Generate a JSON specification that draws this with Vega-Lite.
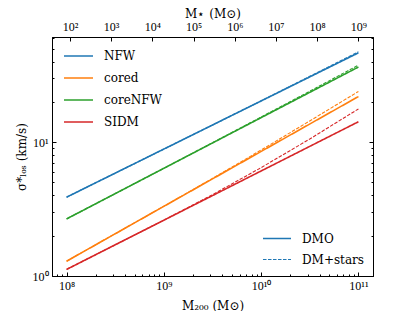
{
  "$schema": "https://vega.github.io/schema/vega-lite/v6.json",
  "width": 321,
  "height": 239,
  "autosize": {"type": "none"},
  "padding": {"left": 52, "top": 37, "right": 42, "bottom": 35},
  "background": "white",
  "config": {
    "view": {"stroke": "black", "strokeWidth": 1},
    "font": "DejaVu Serif",
    "axis": {
      "grid": false,
      "domainColor": "black",
      "tickColor": "black",
      "labelColor": "black",
      "titleColor": "black",
      "labelFont": "Liberation Serif",
      "labelFontSize": 12,
      "titleFont": "DejaVu Serif",
      "titleFontSize": 12,
      "titleFontWeight": "normal"
    },
    "legend": {
      "labelFont": "DejaVu Serif",
      "labelFontSize": 12,
      "labelColor": "black",
      "padding": 0
    }
  },
  "datasets": {
    "lines": [
      {"m200": 100000000, "sigma": 3.88, "model": "NFW", "kind": "DMO"},
      {"m200": 100000000000, "sigma": 46.45, "model": "NFW", "kind": "DMO"},
      {"m200": 100000000, "sigma": 1.29, "model": "cored", "kind": "DMO"},
      {"m200": 100000000000, "sigma": 21.9, "model": "cored", "kind": "DMO"},
      {"m200": 100000000, "sigma": 2.67, "model": "coreNFW", "kind": "DMO"},
      {"m200": 100000000000, "sigma": 36.4, "model": "coreNFW", "kind": "DMO"},
      {"m200": 100000000, "sigma": 1.12, "model": "SIDM", "kind": "DMO"},
      {"m200": 100000000000, "sigma": 14.2, "model": "SIDM", "kind": "DMO"},
      {"m200": 100000000, "sigma": 3.88, "model": "NFW", "kind": "DM+stars"},
      {"m200": 316227766, "sigma": 5.87, "model": "NFW", "kind": "DM+stars"},
      {"m200": 1000000000, "sigma": 8.87, "model": "NFW", "kind": "DM+stars"},
      {"m200": 3162277660, "sigma": 13.43, "model": "NFW", "kind": "DM+stars"},
      {"m200": 10000000000, "sigma": 20.35, "model": "NFW", "kind": "DM+stars"},
      {"m200": 31622776602, "sigma": 31.0, "model": "NFW", "kind": "DM+stars"},
      {"m200": 100000000000, "sigma": 47.3, "model": "NFW", "kind": "DM+stars"},
      {"m200": 100000000, "sigma": 1.29, "model": "cored", "kind": "DM+stars"},
      {"m200": 316227766, "sigma": 2.07, "model": "cored", "kind": "DM+stars"},
      {"m200": 1000000000, "sigma": 3.32, "model": "cored", "kind": "DM+stars"},
      {"m200": 3162277660, "sigma": 5.36, "model": "cored", "kind": "DM+stars"},
      {"m200": 10000000000, "sigma": 8.73, "model": "cored", "kind": "DM+stars"},
      {"m200": 31622776602, "sigma": 14.4, "model": "cored", "kind": "DM+stars"},
      {"m200": 100000000000, "sigma": 23.9, "model": "cored", "kind": "DM+stars"},
      {"m200": 100000000, "sigma": 2.67, "model": "coreNFW", "kind": "DM+stars"},
      {"m200": 316227766, "sigma": 4.12, "model": "coreNFW", "kind": "DM+stars"},
      {"m200": 1000000000, "sigma": 6.37, "model": "coreNFW", "kind": "DM+stars"},
      {"m200": 3162277660, "sigma": 9.9, "model": "coreNFW", "kind": "DM+stars"},
      {"m200": 10000000000, "sigma": 15.4, "model": "coreNFW", "kind": "DM+stars"},
      {"m200": 31622776602, "sigma": 24.0, "model": "coreNFW", "kind": "DM+stars"},
      {"m200": 100000000000, "sigma": 37.6, "model": "coreNFW", "kind": "DM+stars"},
      {"m200": 100000000, "sigma": 1.12, "model": "SIDM", "kind": "DM+stars"},
      {"m200": 316227766, "sigma": 1.71, "model": "SIDM", "kind": "DM+stars"},
      {"m200": 1000000000, "sigma": 2.61, "model": "SIDM", "kind": "DM+stars"},
      {"m200": 3162277660, "sigma": 4.05, "model": "SIDM", "kind": "DM+stars"},
      {"m200": 10000000000, "sigma": 6.45, "model": "SIDM", "kind": "DM+stars"},
      {"m200": 31622776602, "sigma": 10.55, "model": "SIDM", "kind": "DM+stars"},
      {"m200": 100000000000, "sigma": 17.7, "model": "SIDM", "kind": "DM+stars"}
    ],
    "top": [
      {"mstar": 36.6},
      {"mstar": 2275000000}
    ]
  },
  "layer": [
    {
      "data": {"name": "lines"},
      "mark": {"type": "line", "clip": true},
      "encoding": {
        "x": {
          "field": "m200",
          "type": "quantitative",
          "scale": {"type": "log", "domain": [70794578, 141253754462], "nice": false},
          "axis": {
            "orient": "bottom",
            "title": "M₂₀₀ (M⊙)",
            "values": [80000000, 90000000, 100000000, 200000000, 300000000, 400000000, 500000000, 600000000, 700000000, 800000000, 900000000, 1000000000, 2000000000, 3000000000, 4000000000, 5000000000, 6000000000, 7000000000, 8000000000, 9000000000, 10000000000, 20000000000, 30000000000, 40000000000, 50000000000, 60000000000, 70000000000, 80000000000, 90000000000, 100000000000],
            "labelExpr": "datum.value == 100000000 ? '10⁸' : datum.value == 1000000000 ? '10⁹' : datum.value == 10000000000 ? '10¹⁰' : datum.value == 100000000000 ? '10¹¹' : ''",
            "tickSize": {"condition": {"test": "indexof([100000000, 1000000000, 10000000000, 100000000000], datum.value) >= 0", "value": -4}, "value": -2},
            "labelPadding": 8,
            "labelFlush": false,
            "labelOverlap": false,
            "titlePadding": 7
          }
        },
        "y": {
          "field": "sigma",
          "type": "quantitative",
          "scale": {"type": "log", "domain": [1, 61], "nice": false},
          "axis": {
            "orient": "left",
            "title": "σ*ₗₒₛ (km/s)",
            "values": [1, 2, 3, 4, 5, 6, 7, 8, 9, 10, 20, 30, 40, 50, 60],
            "labelExpr": "datum.value == 1 ? '10⁰' : datum.value == 10 ? '10¹' : ''",
            "tickSize": {"condition": {"test": "datum.value == 1 || datum.value == 10", "value": -4}, "value": -2},
            "labelPadding": 8,
            "labelFlush": false,
            "labelOverlap": false,
            "titlePadding": 4
          }
        },
        "color": {
          "field": "model",
          "type": "nominal",
          "scale": {"domain": ["NFW", "cored", "coreNFW", "SIDM"], "range": ["#1f77b4", "#ff7f0e", "#2ca02c", "#d62728"]},
          "legend": {
            "orient": "none",
            "legendX": 11,
            "legendY": 3.5,
            "title": null,
            "symbolType": "stroke",
            "symbolSize": 841,
            "symbolStrokeWidth": 1.5,
            "labelOffset": 10,
            "rowPadding": -9
          }
        },
        "strokeDash": {
          "field": "kind",
          "type": "nominal",
          "scale": {"domain": ["DMO", "DM+stars"], "range": [[1, 0], [3.5, 1.5]]},
          "legend": {
            "orient": "none",
            "legendX": 210,
            "legendY": 186.5,
            "title": null,
            "symbolType": "stroke",
            "symbolSize": 784,
            "symbolStrokeColor": "#1f77b4",
            "symbolStrokeWidth": 1.2,
            "labelOffset": 10,
            "rowPadding": -7,
            "encode": {"symbols": {"update": {"stroke": {"value": "#1f77b4"}}}}
          }
        },
        "strokeWidth": {
          "field": "kind",
          "type": "nominal",
          "scale": {"domain": ["DMO", "DM+stars"], "range": [1.6, 1.1]},
          "legend": null
        }
      }
    },
    {
      "data": {"name": "top"},
      "mark": {"type": "point", "opacity": 0},
      "encoding": {
        "x": {
          "field": "mstar",
          "type": "quantitative",
          "scale": {"type": "log", "domain": [36.6, 2275000000], "nice": false},
          "axis": {
            "orient": "top",
            "title": "M⋆ (M⊙)",
            "values": [100, 1000, 10000, 100000, 1000000, 10000000, 100000000, 1000000000],
            "labelExpr": "datum.value == 100 ? '10²' : datum.value == 1000 ? '10³' : datum.value == 10000 ? '10⁴' : datum.value == 100000 ? '10⁵' : datum.value == 1000000 ? '10⁶' : datum.value == 10000000 ? '10⁷' : datum.value == 100000000 ? '10⁸' : '10⁹'",
            "tickSize": -4,
            "labelPadding": 8,
            "labelFlush": false,
            "labelOverlap": false,
            "titlePadding": 0
          }
        }
      }
    },
    {
      "data": {"name": "lines"},
      "mark": {"type": "point", "opacity": 0},
      "encoding": {
        "y": {
          "field": "sigma",
          "type": "quantitative",
          "scale": {"type": "log", "domain": [1, 61], "nice": false},
          "axis": {
            "orient": "right",
            "title": null,
            "values": [1, 2, 3, 4, 5, 6, 7, 8, 9, 10, 20, 30, 40, 50, 60],
            "labels": false,
            "tickSize": {"condition": {"test": "datum.value == 1 || datum.value == 10", "value": -4}, "value": -2}
          }
        }
      }
    }
  ],
  "resolve": {"scale": {"x": "independent"}, "axis": {"x": "independent", "y": "independent"}}
}
